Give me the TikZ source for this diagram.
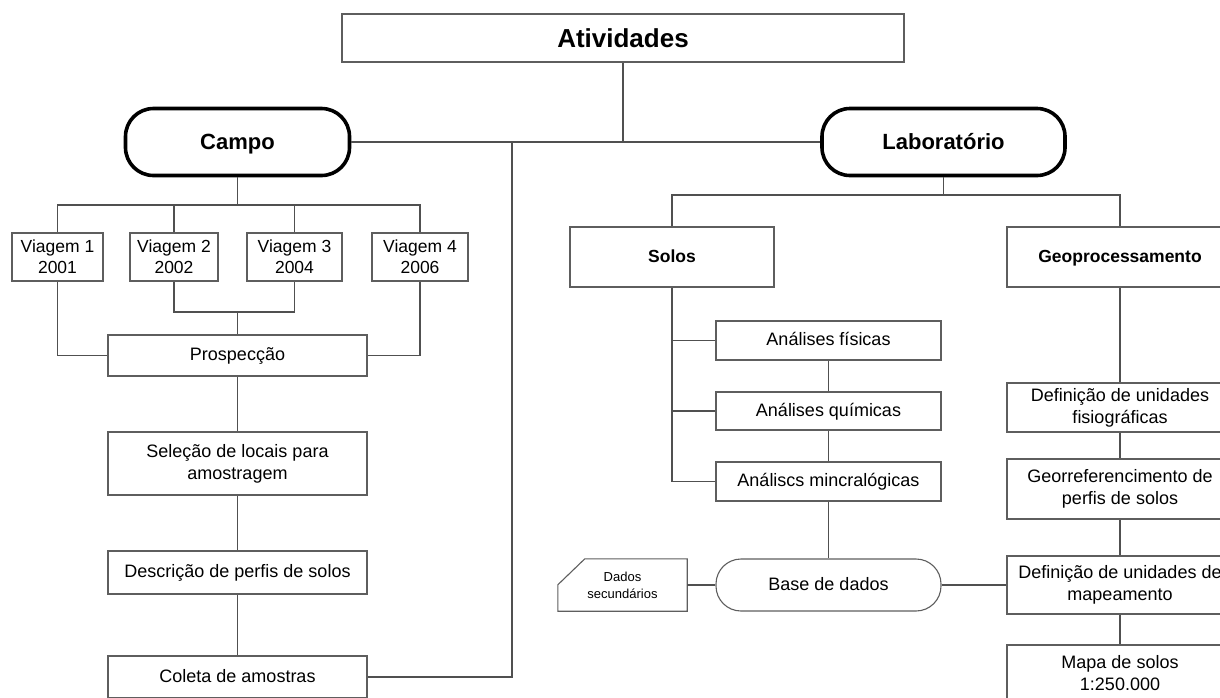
\documentclass[tikz,border=0pt]{standalone}
\usepackage{fontspec}
\setmainfont{Liberation Sans}
\definecolor{boxgray}{HTML}{5E5E5E}
\definecolor{linegray}{HTML}{505050}
\begin{document}
\begin{tikzpicture}[x=1pt,y=-1pt,
  box/.style={draw=boxgray, line width=1.1pt, fill=white, inner sep=0pt, align=center,
    font=\fontsize{18}{22}\selectfont},
  onebox/.style={box, text height=13pt, text depth=3pt},
  hbox/.style={box, font=\fontsize{17.5}{21}\selectfont\bfseries, text height=12.5pt, text depth=1pt},
  pill/.style={draw=black, line width=3.6pt, rounded corners=28pt, fill=white, inner sep=0pt,
    font=\fontsize{22}{26}\selectfont\bfseries, text height=16pt, text depth=1pt},
  thinpill/.style={onebox, rounded corners=25pt},
  vbox/.style={box, font=\fontsize{17.5}{21}\selectfont},
  ln/.style={draw=linegray, line width=1.2pt}]
\path[use as bounding box] (0,0) rectangle (1220,697);
\clip (0,0) rectangle (1220,697);

% top
\node[box, minimum width=562pt, minimum height=48pt, font=\fontsize{26}{30}\selectfont\bfseries] (ativ) at (623,38) {Atividades};
\node[pill, minimum width=224pt, minimum height=67pt] (campo) at (237.5,142) {Campo};
\node[pill, minimum width=243pt, minimum height=67pt] (lab) at (943.5,142) {Laboratório};

% campo side
\node[vbox, minimum width=91pt, minimum height=48pt] (v1) at (57.5,257) {Viagem 1\\2001};
\node[vbox, minimum width=88pt, minimum height=48pt] (v2) at (174,257) {Viagem 2\\2002};
\node[vbox, minimum width=95pt, minimum height=48pt] (v3) at (294.5,257) {Viagem 3\\2004};
\node[vbox, minimum width=96pt, minimum height=48pt] (v4) at (420,257) {Viagem 4\\2006};
\node[onebox, minimum width=259pt, minimum height=41pt] (prosp) at (237.5,355.5) {Prospecção};
\node[box, minimum width=259pt, minimum height=63pt] (sel) at (237.5,463.5) {Seleção de locais para\\amostragem};
\node[onebox, minimum width=259pt, minimum height=43pt] (desc) at (237.5,572.5) {Descrição de perfis de solos};
\node[onebox, minimum width=259pt, minimum height=42pt] (coleta) at (237.5,677) {Coleta de amostras};

% laboratorio side
\node[hbox, minimum width=204pt, minimum height=60pt] (solos) at (672,257) {Solos};
\node[hbox, minimum width=226pt, minimum height=60pt] (geo) at (1120,257) {Geoprocessamento};
\node[onebox, minimum width=225pt, minimum height=39pt] (af) at (828.5,340.5) {Análises físicas};
\node[onebox, minimum width=225pt, minimum height=38pt] (aq) at (828.5,411) {Análises químicas};
\node[onebox, minimum width=225pt, minimum height=39pt] (am) at (828.5,481.5) {Análiscs mincralógicas};
\node[thinpill, minimum width=225pt, minimum height=52pt] (base) at (828.5,585) {Base de dados};
\node[inner sep=0pt, minimum width=129pt, minimum height=52pt, align=center,
  font=\fontsize{13}{17}\selectfont] (dados) at (622.5,585) {Dados\\secundários};
\draw[draw=boxgray, line width=1.1pt] ([yshift=-26pt]dados.north west) -- ([xshift=27pt]dados.north west)
  -- (dados.north east) -- (dados.south east) -- (dados.south west) -- cycle;
\node[box, minimum width=226pt, minimum height=49pt] (df) at (1120,407.5) {Definição de unidades\\fisiográficas};
\node[box, minimum width=226pt, minimum height=60pt] (gr) at (1120,489) {Georreferencimento de\\perfis de solos};
\node[box, minimum width=226pt, minimum height=58pt] (dm) at (1120,585) {Definição de unidades de\\mapeamento};
\node[box, minimum width=226pt, minimum height=56pt] (mapa) at (1120,673) {Mapa de solos\\1:250.000};

% connectors
\coordinate (j1) at (512,142);
\coordinate (cbus) at (237.5,205);
\coordinate (j23) at (237.5,312);
\coordinate (lbus) at (943.5,195);
\draw[ln] (campo.east) -- (lab.west);
\draw[ln] (ativ.south) -- (ativ.south |- campo.east);
\draw[ln] (coleta.east) -| (j1);
\draw[ln] (campo.south) -- (cbus);
\draw[ln] (v1.north) |- (cbus) -| (v4.north);
\draw[ln] (v2.north) -- (v2.north |- cbus);
\draw[ln] (v3.north) -- (v3.north |- cbus);
\draw[ln] (v2.south) |- (j23) -| (v3.south);
\draw[ln] (j23) -- (prosp.north);
\draw[ln] (v1.south) |- (prosp.west);
\draw[ln] (v4.south) |- (prosp.east);
\draw[ln] (prosp.south) -- (sel.north);
\draw[ln] (sel.south) -- (desc.north);
\draw[ln] (desc.south) -- (coleta.north);
\draw[ln] (lab.south) -- (lbus);
\draw[ln] (solos.north) |- (lbus) -| (geo.north);
\draw[ln] (solos.south) |- (am.west);
\draw[ln] (solos.south |- af.west) -- (af.west);
\draw[ln] (solos.south |- aq.west) -- (aq.west);
\draw[ln] (af.south) -- (aq.north);
\draw[ln] (aq.south) -- (am.north);
\draw[ln] (am.south) -- (base.north);
\draw[ln] (dados.east) -- (base.west);
\draw[ln] (base.east) -- (dm.west);
\draw[ln] (geo.south) -- (df.north);
\draw[ln] (df.south) -- (gr.north);
\draw[ln] (gr.south) -- (dm.north);
\draw[ln] (dm.south) -- (mapa.north);
\end{tikzpicture}
\end{document}
